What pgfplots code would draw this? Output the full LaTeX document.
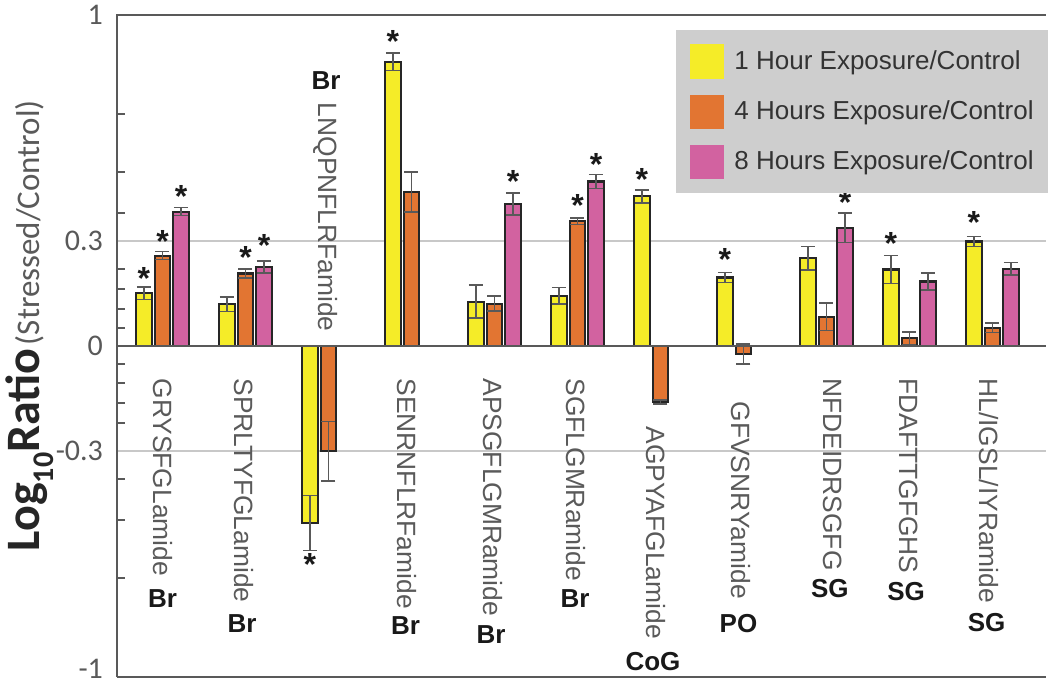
\documentclass[border=0pt]{standalone}
\usepackage{fontspec}
\setmainfont{Liberation Sans}
\newfontfamily\calibri{Carlito}
\usepackage{pgfplots}
\usepackage{pgfplotstable}
\pgfplotsset{compat=1.18}

\definecolor{yellowc}{RGB}{245,236,40}
\definecolor{orangec}{RGB}{226,117,50}
\definecolor{pinkc}{RGB}{210,98,160}
\definecolor{legendgray}{RGB}{206,206,206}
\definecolor{axisgray}{RGB}{89,89,89}
\definecolor{gridgray}{RGB}{200,200,200}
\definecolor{labelgray}{RGB}{90,90,90}

% 1 Hour Exposure/Control
\pgfplotstableread{
x y e
-0.223 0.160 0.019
0.777 0.126 0.022
1.777 -0.535 0.083
2.777 0.859 0.027
3.777 0.134 0.050
4.777 0.152 0.025
5.777 0.452 0.020
6.777 0.207 0.015
7.777 0.265 0.036
8.777 0.231 0.042
9.777 0.316 0.015
}\yellowtab
% 4 Hours Exposure/Control
\pgfplotstableread{
x y e
0 0.273 0.012
1 0.219 0.013
2 -0.318 0.090
3 0.465 0.060
4 0.128 0.023
5 0.377 0.010
6 -0.169 0.006
7 -0.024 0.030
8 0.088 0.041
9 0.023 0.020
10 0.055 0.014
}\orangetab
% 8 Hours Exposure/Control
\pgfplotstableread{
x y e
0.223 0.406 0.012
1.223 0.239 0.018
4.223 0.429 0.033
5.223 0.497 0.021
8.223 0.357 0.044
9.223 0.195 0.025
10.223 0.233 0.019
}\pinktab
% significance asterisks
\pgfplotstableread{
x y
-0.223 0.203
0 0.316
0.223 0.452
1 0.266
1.223 0.303
1.777 -0.660
2.777 0.919
4.223 0.497
5 0.424
5.223 0.548
5.777 0.503
6.777 0.261
8.223 0.434
8.777 0.311
9.777 0.374
}\startab

\pgfplotsset{
  myerr/.style={error bars/.cd, y dir=both, y explicit,
    error bar style={axisgray, line width=0.8pt},
    error mark options={rotate=90, mark size=3.5pt, axisgray, line width=0.8pt}},
}
\newcommand{\pep}[3]{\node[rotate=-90, anchor=west, inner sep=0pt, text=labelgray, font=\fontsize{13.2}{13.2}\selectfont] at (axis cs:#1,#2) {#3};}
\newcommand{\code}[3]{\node[inner sep=0pt, text=black!90, font=\bfseries\fontsize{13}{13}\selectfont] at (axis cs:#1,#2) {#3};}

\begin{document}
\begin{tikzpicture}
\begin{axis}[
  name=ax,
  scale only axis,
  width=464.5pt, height=331pt,
  xmin=-0.548, xmax=10.645,
  ymin=-1, ymax=1,
  clip=false,
  axis line style={draw=none},
  xtick=\empty,
  ytick={-1,-0.7,-0.527,-0.403,-0.318,-0.233,-0.172,-0.111,-0.055,0,0.055,0.111,0.172,0.233,0.318,0.403,0.527,0.7,1},
  yticklabels={\raisebox{8pt}{-1},,,,-0.3,,,,,0,,,,,0.3,,,,1},
  tick align=inside,
  ytick pos=left,
  major tick length=4pt,
  tick style={axisgray, line width=1pt},
  yticklabel style={font=\calibri\fontsize{15}{15}\selectfont, text=axisgray, xshift=-3.5pt},
  extra y ticks={-0.318,0.318},
  extra y tick labels={},
  extra y tick style={grid=major, major grid style={gridgray, line width=0.8pt}, major tick length=0pt},
  legend style={at={(rel axis cs:1,1)}, anchor=north east, xshift=1pt, yshift=-7.5pt,
    fill=legendgray, draw=none, font=\fontsize{13}{14}\selectfont, text=black!80,
    inner xsep=7pt, inner ysep=7pt, row sep=8pt,
    nodes={inner sep=0pt, anchor=west},
    /tikz/every odd column/.append style={column sep=5pt}},
  legend cell align=left,
]
\addplot[ybar, bar width=0.187, bar shift=0pt, fill=yellowc, draw=black!85, line width=1.1pt,
  legend image code/.code={\fill[yellowc] (0pt,-8pt) rectangle (16pt,8pt);}, myerr]
  table[x=x, y=y, y error=e] {\yellowtab};
\addlegendentry{1 Hour Exposure/Control}
\addplot[ybar, bar width=0.187, bar shift=0pt, fill=orangec, draw=black!85, line width=1.1pt,
  legend image code/.code={\fill[orangec] (0pt,-8pt) rectangle (16pt,8pt);}, myerr]
  table[x=x, y=y, y error=e] {\orangetab};
\addlegendentry{4 Hours Exposure/Control}
\addplot[ybar, bar width=0.187, bar shift=0pt, fill=pinkc, draw=black!85, line width=1.1pt,
  legend image code/.code={\fill[pinkc] (0pt,-8pt) rectangle (16pt,8pt);}, myerr]
  table[x=x, y=y, y error=e] {\pinktab};
\addlegendentry{8 Hours Exposure/Control}

\addplot[forget plot, only marks, black, mark=text, text mark={*}, text mark as node=true,
  text mark style={font=\bfseries\fontsize{16}{16}\selectfont, text=black!90}]
  table[x=x, y=y] {\startab};

% axis frame (left, top, bottom) and zero line
\draw[axisgray, line width=1.2pt] (rel axis cs:0,0) -- (rel axis cs:0,1) -- (rel axis cs:1,1);
\draw[axisgray, line width=1.2pt] (rel axis cs:0,0) -- (rel axis cs:1,0);
\draw[axisgray, line width=1.1pt] (rel axis cs:0,0.5) -- (rel axis cs:1,0.5);

% peptide labels
\pep{0}{-0.097}{GRYSFGLamide}
\pep{0.98}{-0.097}{SPRLTYFGLamide}
\pep{1.97}{0.736}{LNQPNFLRFamide}
\pep{2.95}{-0.097}{SENRNFLRFamide}
\pep{3.976}{-0.097}{APSGFLGMRamide}
\pep{4.98}{-0.097}{SGFLGMRamide}
\pep{5.946}{-0.242}{AGPYAFGLamide}
\pep{6.97}{-0.167}{GFVSNRYamide}
\pep{8.07}{-0.097}{NFDEIDRSGFG}
\pep{8.99}{-0.097}{FDAFTTGFGHS}
\pep{9.96}{-0.097}{HL/IGSL/IYRamide}
% tissue codes
\code{0}{-0.764}{Br}
\code{0.96}{-0.839}{Br}
\code{1.97}{0.803}{Br}
\code{2.93}{-0.845}{Br}
\code{3.96}{-0.873}{Br}
\code{4.97}{-0.764}{Br}
\code{5.91}{-0.952}{CoG}
\code{6.94}{-0.839}{PO}
\code{8.04}{-0.733}{SG}
\code{8.96}{-0.742}{SG}
\code{9.93}{-0.836}{SG}

% y label
\node[rotate=90, anchor=base west, inner sep=0pt, text=black!85] at (axis cs:-1.476,-0.621)
  {{\calibri\bfseries\fontsize{24}{24}\selectfont Log\raisebox{-0.28em}{\fontsize{15}{15}\selectfont 10}Ratio}\,{\calibri\fontsize{16.5}{16.5}\selectfont\color{labelgray} (Stressed/Control)}};
\end{axis}
\pgfresetboundingbox
\path[use as bounding box] ([shift={(-58.5pt,-4.5pt)}]ax.south west) rectangle ([shift={(2pt,7.5pt)}]ax.north east);
\end{tikzpicture}
\end{document}
